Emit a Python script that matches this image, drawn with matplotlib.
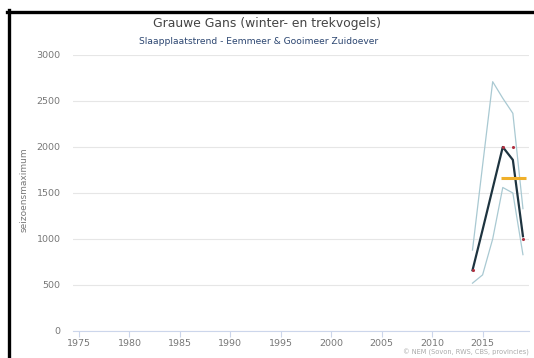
import matplotlib
matplotlib.use("Agg")
import matplotlib.pyplot as plt
from matplotlib.lines import Line2D

# ---- data ----
years = [2014, 2015, 2016, 2017, 2018, 2019]
trend = [660, 1100, 1550, 2000, 1860, 1030]
upper = [880, 1800, 2710, 2530, 2366, 1330]
lower = [520, 610, 1000, 1560, 1500, 830]
count_years = [2014, 2017, 2018, 2019]
counts = [660, 2000, 2000, 1000]
mean_start, mean_end = 2016.8, 2019.3
mean_value = 1667
xticks = [1975, 1980, 1985, 1990, 1995, 2000, 2005, 2010, 2015]
yticks = [0, 500, 1000, 1500, 2000, 2500, 3000]

title = "Grauwe Gans (winter- en trekvogels)"
subtitle = "Slaapplaatstrend - Eemmeer & Gooimeer Zuidoever"
ylabel = "seizoensmaximum"
credits = "\u00a9 NEM (Sovon, RWS, CBS, provincies)"

W, H = 534, 358
fig = plt.figure(figsize=(W / 100, H / 100), dpi=100)
fig.patch.set_facecolor("white")

left, right, top, bottom = 73, 529, 55, 331
ax = fig.add_axes([left / W, 1 - bottom / H, (right - left) / W, (bottom - top) / H])
ax.set_xlim(1974.4, 2019.6)
ax.set_ylim(0, 3000)

ax.plot(years, upper, color="#a9c9d2", lw=0.9, zorder=3)
ax.plot(years, lower, color="#a9c9d2", lw=0.9, zorder=3)
ax.plot(years, trend, color="#1e3440", lw=1.6, zorder=4)
ax.scatter(count_years, counts, s=5, color="#b03040", zorder=5, linewidths=0)
ax.hlines(mean_value, mean_start, mean_end, color="#f0b02a", lw=2.2, zorder=6)

ax.set_xticks(xticks)
ax.set_yticks(yticks)
ax.set_xticklabels([str(x) for x in xticks], fontsize=6.8, color="#777777")
ax.set_yticklabels([str(y) for y in yticks], fontsize=6.8, color="#777777")
ax.tick_params(axis="y", length=0, pad=9)
ax.tick_params(axis="x", length=4, color="#ccd6eb", width=0.8, pad=2)
ax.grid(axis="y", color="#e6e6e6", lw=0.8)
ax.set_axisbelow(True)
for s in ["top", "right", "left"]:
    ax.spines[s].set_visible(False)
ax.spines["bottom"].set_color("#ccd6eb")
ax.spines["bottom"].set_linewidth(0.8)

fig.text(24 / W, 1 - 190 / H, ylabel, rotation=90, ha="center", va="center",
         fontsize=6.5, color="#777777")
fig.text(267 / W, 1 - 23 / H, title, ha="center", va="center",
         fontsize=8.9, color="#444444")
fig.text(259 / W, 1 - 41 / H, subtitle, ha="center", va="center",
         fontsize=6.6, color="#2b4570")
fig.text(529 / W, 1 - 352 / H, credits, ha="right", va="center",
         fontsize=4.8, color="#aaaaaa")

# black frame at left and top
fig.add_artist(Line2D([8.5 / W, 8.5 / W], [0, 1 - 10 / H], color="black", lw=2.4))
fig.add_artist(Line2D([7.3 / W, 1], [1 - 11.5 / H, 1 - 11.5 / H], color="black", lw=2.4))

fig.savefig("out.png", dpi=100)
